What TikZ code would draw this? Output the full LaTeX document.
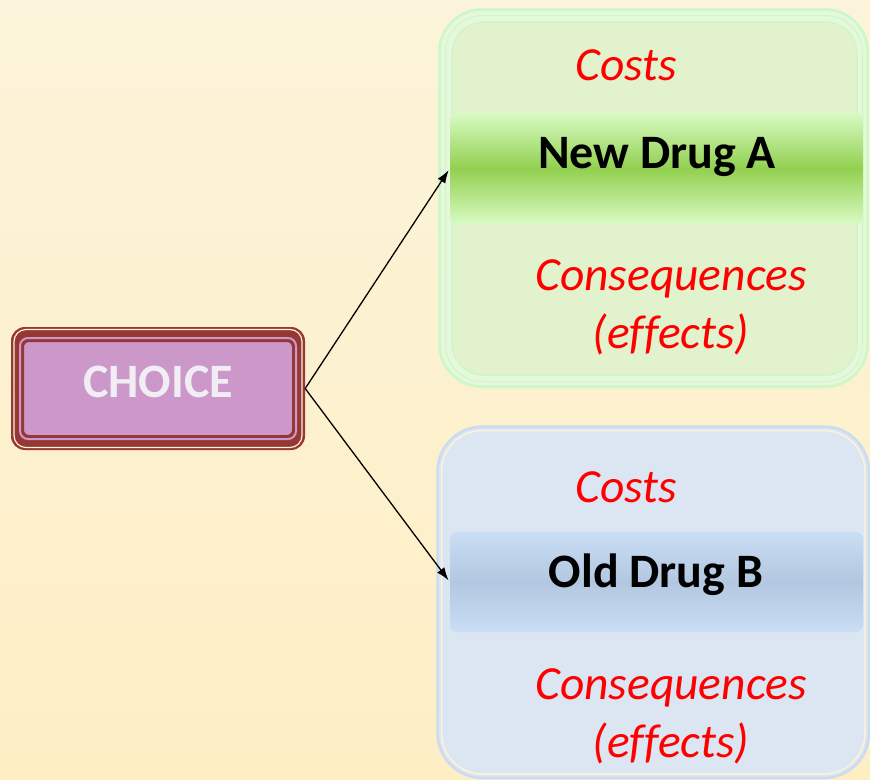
\documentclass[tikz,border=0pt]{standalone}
\usepackage{fontspec}
\setmainfont{Carlito}[Ligatures=CommonOff]
\usetikzlibrary{arrows.meta}

\definecolor{bgtop}{HTML}{FCF4DA}
\definecolor{bgbottom}{HTML}{FDEEC4}
\definecolor{choicered}{HTML}{953735}
\definecolor{choicepink}{HTML}{CC97C9}
\definecolor{choicetext}{HTML}{F0EEF4}
\definecolor{creamline}{HTML}{FDF3D6}
\definecolor{greenedge}{HTML}{CCF7C6}
\definecolor{greenpale}{HTML}{E6F8DC}
\definecolor{greenfill}{HTML}{E2F2CD}
\definecolor{greenlight}{HTML}{D8FBC4}
\definecolor{greendark}{HTML}{92D050}
\definecolor{blueedge}{HTML}{CCDCF0}
\definecolor{bluefill}{HTML}{DCE6F2}
\definecolor{bluelight}{HTML}{C9DDF5}
\definecolor{bluedark}{HTML}{B4C7E0}

\begin{document}
\begin{tikzpicture}[x=1pt,y=-1pt,
    lbl/.style={font=\fontsize{47.5}{58}\selectfont\itshape, text=red, align=center, anchor=base, inner sep=0pt},
    drug/.style={font=\fontsize{48}{54}\selectfont\bfseries, anchor=base, inner sep=0pt},
    band/.style={rounded corners=7pt, minimum width=413pt, inner sep=0pt},
    arr/.style={-{Latex[length=13pt,width=9pt]}, line width=1.3pt, shorten >=2pt}]

    % background
    \shade[top color=bgtop, bottom color=bgbottom] (0,0) rectangle (870,779);
    \useasboundingbox (0,0) rectangle (870,779);

    % choice box with its frame
    \node[fill=choicered, rounded corners=14pt, minimum width=294pt, minimum height=123pt] (chframe) at (158,388.5) {};
    \draw[creamline, line width=1.2pt, rounded corners=12pt] (14,329.5) rectangle (302,447.5);
    \draw[choicepink, line width=2pt, rounded corners=8pt] (20,338) rectangle (296,439);
    \node[fill=choicepink, draw=choicered, line width=2pt, rounded corners=6pt, minimum width=270pt, minimum height=95pt] (choice) at (158,388.5) {};
    \node[font=\fontsize{48}{54}\selectfont\bfseries, text=choicetext, anchor=base] (choicetxt) at (158,397) {CHOICE};

    % box of drug A
    \draw[greenedge, line width=2.5pt, fill=greenpale, rounded corners=42pt] (439.5,9.5) rectangle (867.5,386.5);
    \draw[greenedge, line width=1pt, rounded corners=37pt] (445.5,15.5) rectangle (862.5,381.5);
    \draw[greenedge, line width=1.5pt, fill=greenfill, rounded corners=32pt] (452,22) rectangle (857,375);
    \node[band, minimum height=111pt, top color=greenlight, bottom color=greenlight, middle color=greendark] (bandA) at (656.5,168.5) {};
    \node[lbl] (costsA) at (626,80) {Costs};
    \node[drug] (drugA) at (657,168) {New Drug A};
    \node[lbl] (consA) at (671,348) {Consequences\\(effects)};

    % box of drug B
    \draw[blueedge, line width=2.5pt, fill=bluefill, rounded corners=45pt] (437.5,426.5) rectangle (869,778);
    \draw[creamline, line width=1.5pt, rounded corners=41pt] (441.5,430.5) rectangle (865,774);
    \node[band, minimum height=100pt, top color=bluelight, bottom color=bluelight, middle color=bluedark] (bandB) at (656.5,582) {};
    \node[lbl] (costsB) at (626,502) {Costs};
    \node[drug] (drugB) at (656,587) {Old Drug B};
    \node[lbl] (consB) at (671,757) {Consequences\\(effects)};

    % arrows
    \draw[arr] (chframe.east) -- (bandA.west);
    \draw[arr] (chframe.east) -- (bandB.west);
\end{tikzpicture}
\end{document}
